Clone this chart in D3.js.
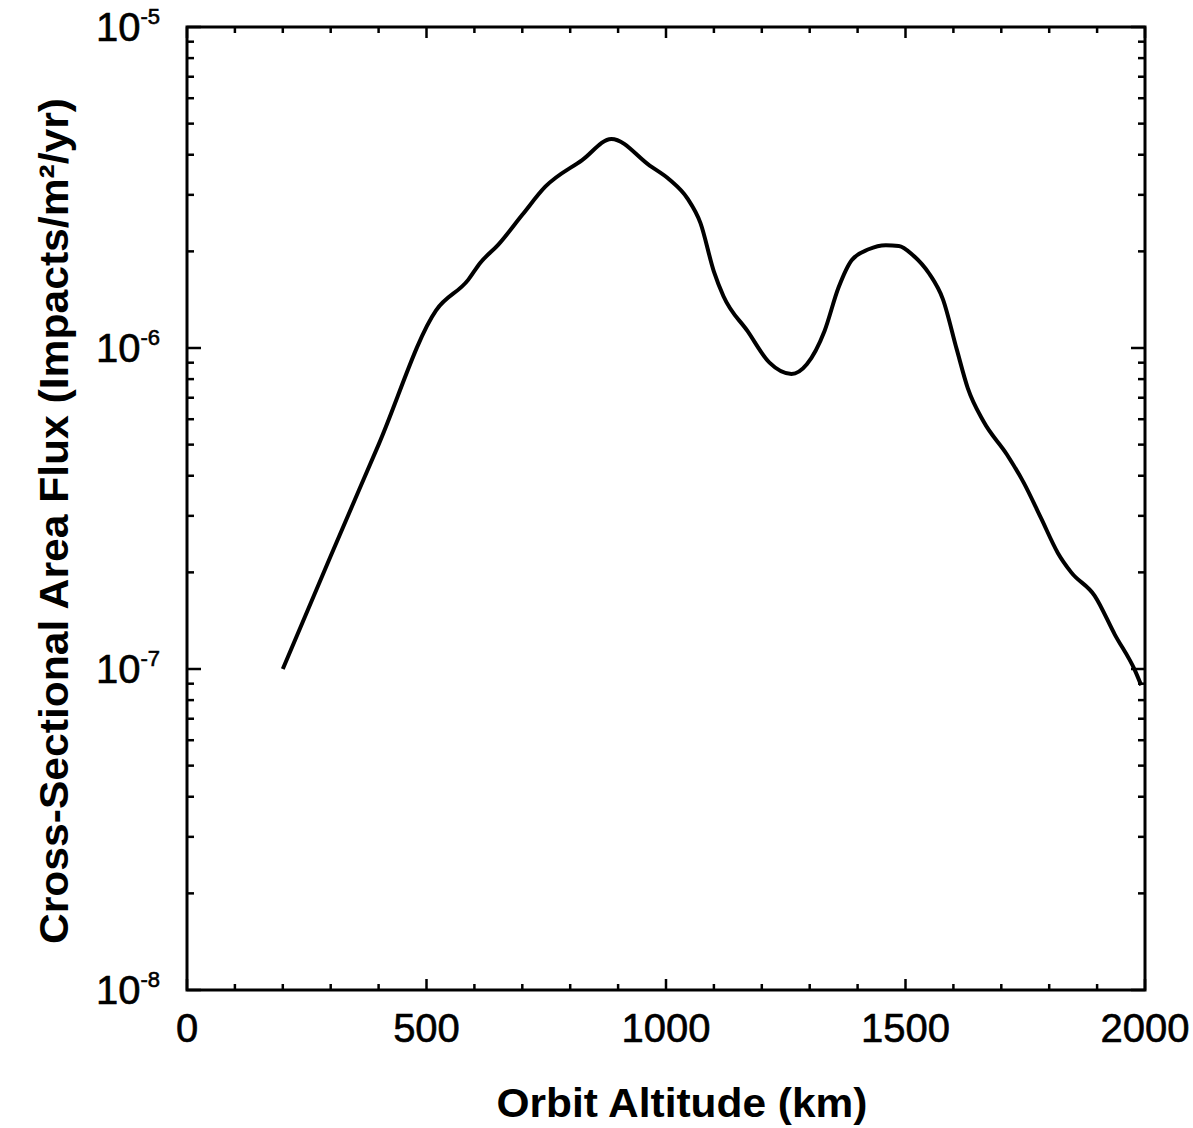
<!DOCTYPE html>
<html>
<head>
<meta charset="utf-8">
<script src="https://cdn.jsdelivr.net/npm/d3@7"></script>
<style>
  body { margin: 0; background: #fff; }
  text { font-family: "Liberation Sans", Arial, Helvetica, sans-serif; fill: #000; }
</style>
</head>
<body>
<div id="chart"></div>
<script>
// data
const altitudeKm = [200, 300, 400, 520, 587, 612, 650, 700, 748, 825, 886, 966, 1007, 1045, 1072, 1100, 1120, 1170, 1216, 1262, 1294, 1331, 1360, 1388, 1423, 1459, 1486, 1515, 1550, 1578, 1607, 1630, 1663, 1712, 1747, 1783, 1818, 1846, 1895, 1937, 1979, 1992];
const fluxValues = [1.0e-7, 2.25e-7, 5.0e-7, 1.31e-6, 1.63e-6, 1.84e-6, 2.1e-6, 2.6e-6, 3.18e-6, 3.85e-6, 4.48e-6, 3.7e-6, 3.35e-6, 2.92e-6, 2.45e-6, 1.73e-6, 1.45e-6, 1.13e-6, 9.0e-7, 8.3e-7, 8.9e-7, 1.13e-6, 1.54e-6, 1.88e-6, 2.03e-6, 2.09e-6, 2.08e-6, 1.95e-6, 1.70e-6, 1.42e-6, 9.9e-7, 7.5e-7, 5.9e-7, 4.65e-7, 3.8e-7, 2.95e-7, 2.3e-7, 2.0e-7, 1.69e-7, 1.28e-7, 9.9e-8, 8.9e-8];
const xTickLabels = [0, 500, 1000, 1500, 2000];
const yExponents = [-5, -6, -7, -8];

const margin = { top: 27, right: 48, bottom: 138, left: 187 };
const W = 1193, H = 1128;
const width = W - margin.left - margin.right;
const height = H - margin.top - margin.bottom;

const svg = d3.select("#chart").append("svg")
    .attr("width", W)
    .attr("height", H);

const g = svg.append("g")
    .attr("transform", `translate(${margin.left},${margin.top})`);

// scales
const x = d3.scaleLinear().domain([0, 2000]).range([0, width]);
const y = d3.scaleLog().domain([1e-8, 1e-5]).range([height, 0]);

// ticks (all point inward)
const xMinor = d3.range(0, 2001, 100).filter(v => v % 500 !== 0);
const yMinor = y.ticks().filter(v => Math.abs(Math.log10(v) - Math.round(Math.log10(v))) > 1e-6);
const yMajor = yExponents.map(e => Math.pow(10, e));

const tickStyle = sel => sel.attr("stroke", "#000").attr("stroke-width", 2.5);

// bottom + top
[[height, -1], [0, 1]].forEach(([y0, dir]) => {
    g.selectAll(null).data(xMinor).enter().append("line")
        .attr("x1", d => x(d)).attr("x2", d => x(d))
        .attr("y1", y0).attr("y2", y0 + dir * 6)
        .call(tickStyle);
    g.selectAll(null).data(xTickLabels).enter().append("line")
        .attr("x1", d => x(d)).attr("x2", d => x(d))
        .attr("y1", y0).attr("y2", y0 + dir * 11)
        .call(tickStyle);
});

// left + right
[[0, 1], [width, -1]].forEach(([x0, dir]) => {
    g.selectAll(null).data(yMinor).enter().append("line")
        .attr("x1", x0).attr("x2", x0 + dir * 7)
        .attr("y1", d => y(d)).attr("y2", d => y(d))
        .call(tickStyle);
    g.selectAll(null).data(yMajor).enter().append("line")
        .attr("x1", x0).attr("x2", x0 + dir * 14)
        .attr("y1", d => y(d)).attr("y2", d => y(d))
        .call(tickStyle);
});

// frame
g.append("rect")
    .attr("x", 0).attr("y", 0)
    .attr("width", width).attr("height", height)
    .attr("fill", "none")
    .attr("stroke", "#000")
    .attr("stroke-width", 3);

// curve
const pts = altitudeKm.map((a, i) => ({ alt: a, flux: fluxValues[i] }));
const line = d3.line()
    .x(d => x(d.alt))
    .y(d => y(d.flux))
    .curve(d3.curveMonotoneX);

g.append("path")
    .datum(pts)
    .attr("fill", "none")
    .attr("stroke", "#000")
    .attr("stroke-width", 4)
    .attr("stroke-linejoin", "round")
    .attr("d", line);

// x tick labels
g.selectAll(null).data(xTickLabels).enter().append("text")
    .attr("x", d => x(d))
    .attr("y", height + 52)
    .attr("text-anchor", "middle")
    .style("font-size", "40px")
    .style("stroke", "#000")
    .style("stroke-width", 0.6)
    .text(d => d);

// y tick labels 10^n
yExponents.forEach(e => {
    const t = g.append("text")
        .attr("x", -27)
        .attr("y", y(Math.pow(10, e)) + 14)
        .attr("text-anchor", "end")
        .style("font-size", "40px")
        .style("stroke", "#000")
        .style("stroke-width", 0.6);
    t.append("tspan").text("10");
    t.append("tspan")
        .attr("dy", -17)
        .style("font-size", "22px")
        .text(String(e));
});

// axis titles
svg.append("text")
    .attr("x", 682)
    .attr("y", 1117)
    .attr("text-anchor", "middle")
    .attr("textLength", 371)
    .attr("lengthAdjust", "spacingAndGlyphs")
    .style("font-size", "41px")
    .style("font-weight", "bold")
    .text("Orbit Altitude (km)");

svg.append("text")
    .attr("transform", "translate(68,521) rotate(-90)")
    .attr("text-anchor", "middle")
    .attr("textLength", 846)
    .attr("lengthAdjust", "spacingAndGlyphs")
    .style("font-size", "41px")
    .style("font-weight", "bold")
    .text("Cross-Sectional Area Flux (Impacts/m²/yr)");
</script>
</body>
</html>
